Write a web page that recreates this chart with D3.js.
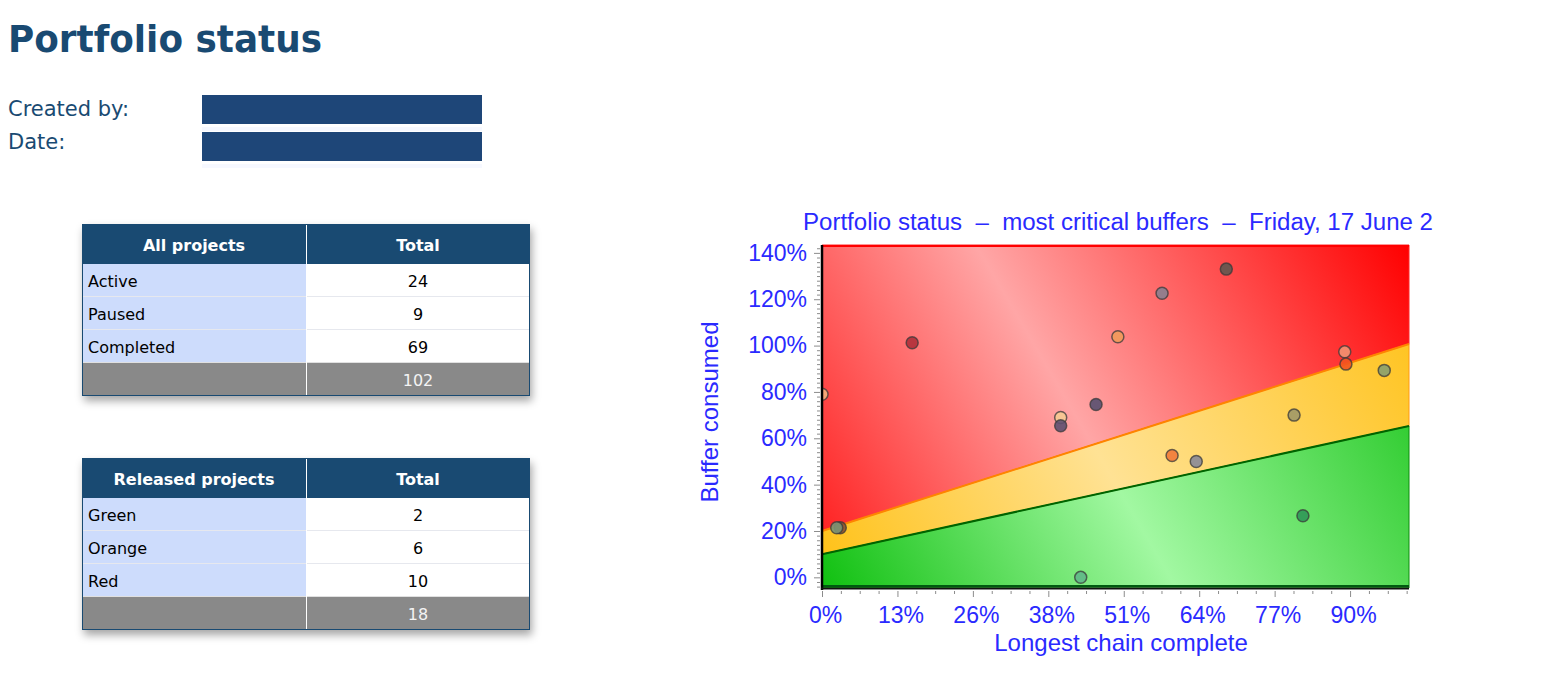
<!DOCTYPE html>
<html>
<head>
<meta charset="utf-8">
<script src="https://cdnjs.cloudflare.com/ajax/libs/d3/7.8.5/d3.min.js"></script>
<style>
  body { margin: 0; background: #fff; }
</style>
</head>
<body>
<script>
// ---- data ----
var pageTitle = "Portfolio status";
var infoLabels = ["Created by:", "Date:"];

var allHeads = ["All projects", "Total"];
var allRows = ["Active", "Paused", "Completed"];
var allValues = [24, 9, 69];
var allTotal = 102;

var relHeads = ["Released projects", "Total"];
var relRows = ["Green", "Orange", "Red"];
var relValues = [2, 6, 10];
var relTotal = 18;

var chartTitle = "Portfolio status  \u2013  most critical buffers  \u2013  Friday, 17 June 2";
var xTitle = "Longest chain complete";
var yTitle = "Buffer consumed";

// % of longest chain complete / % of buffer consumed, one per released project
var chainDone  = [0,   3.1,  2.5,  15.3,  40.5, 40.5, 46.5, 43.9, 50.2,  57.7,  68.6, 59.4, 63.5, 80.1, 81.6, 88.7, 88.9, 95.4];
var bufferUsed = [79,  21.4, 21.4, 101.2, 69,   65.4, 74.6, 0,    103.8, 122.6, 133,  52.6, 50,   70,   26.6, 97.3, 92,   89.3];
var pointColors = ["#f5b07c", "#8a5032", "#7c9474", "#b0303a", "#f6ca92", "#5e5070", "#585070", "#60b888",
                   "#f29a5a", "#8a8090", "#605850", "#f27a3a", "#8a8a98", "#a09868", "#309858", "#f29272",
                   "#f25420", "#88a070"];

// zone limits: buffer % at 0% and 100% chain complete
var greenLimit = [10, 65.5];
var orangeLimit = [20, 101];

var xTickValues = [0, 12.8, 25.6, 38.4, 51.2, 64, 76.8, 89.6];
var xTickLabels = ["0%", "13%", "26%", "38%", "51%", "64%", "77%", "90%"];
var yTickValues = [0, 20, 40, 60, 80, 100, 120, 140];
var yTickLabels = ["0%", "20%", "40%", "60%", "80%", "100%", "120%", "140%"];

// ---- page ----
var svg = d3.select("body").append("svg")
  .attr("width", 1560).attr("height", 676)
  .style("font-family", "'DejaVu Sans', Verdana, sans-serif");

var defs = svg.append("defs");
var shadow = defs.append("filter").attr("id", "shadow")
  .attr("x", "-10%").attr("y", "-15%").attr("width", "125%").attr("height", "145%");
shadow.append("feDropShadow").attr("dx", 2).attr("dy", 5).attr("stdDeviation", 4)
  .attr("flood-color", "#000").attr("flood-opacity", 0.35);

var navy = "#194a72";

svg.append("text").attr("x", 8).attr("y", 52)
  .attr("font-size", 38).attr("font-weight", "bold").attr("fill", navy)
  .attr("textLength", 314).attr("lengthAdjust", "spacingAndGlyphs")
  .text(pageTitle);

svg.selectAll(".info").data(infoLabels).enter().append("text")
  .attr("x", 8).attr("y", function(d, i){ return 116 + i * 33; })
  .attr("font-size", 21).attr("fill", navy)
  .text(function(d){ return d; });

infoLabels.forEach(function(d, i){
  svg.append("rect").attr("x", 202).attr("y", 127 + i * 37).attr("width", 280).attr("height", 4).attr("fill", "#f6f8ff");
  svg.append("rect").attr("x", 202).attr("y", 95 + i * 37).attr("width", 280).attr("height", 29).attr("fill", "#1e4678");
});

function drawTable(top, heads, rows, values, total) {
  var left = 82, right = 530, mid = 306, headH = 39, rowH = 33;
  var g = svg.append("g");
  var bodyTop = top + headH;
  var footTop = bodyTop + rows.length * rowH;
  var bottom = footTop + 34;

  g.append("rect").attr("x", left).attr("y", top).attr("width", right - left).attr("height", bottom - top)
    .attr("fill", "#fff").attr("filter", "url(#shadow)");
  g.append("rect").attr("x", left).attr("y", top).attr("width", right - left).attr("height", headH).attr("fill", navy);

  rows.forEach(function(r, i){
    var ry = bodyTop + i * rowH;
    g.append("rect").attr("x", left).attr("y", ry).attr("width", mid - left).attr("height", rowH).attr("fill", "#cddcfc");
    g.append("line").attr("x1", left).attr("x2", right).attr("y1", ry + 0.5).attr("y2", ry + 0.5)
      .attr("stroke", i === 0 ? navy : "#e6e8ee");
    g.append("text").attr("x", 88).attr("y", ry + 24).attr("font-size", 16).attr("fill", "#000").text(r);
    g.append("text").attr("x", (mid + right) / 2).attr("y", ry + 24).attr("font-size", 16)
      .attr("text-anchor", "middle").attr("fill", "#000").text(values[i]);
  });

  g.append("rect").attr("x", left).attr("y", footTop).attr("width", right - left).attr("height", bottom - footTop).attr("fill", "#898989");
  g.append("line").attr("x1", left).attr("x2", right).attr("y1", footTop + 0.5).attr("y2", footTop + 0.5).attr("stroke", "#e0e0e0");
  g.append("line").attr("x1", mid + 0.5).attr("x2", mid + 0.5).attr("y1", top).attr("y2", bottom).attr("stroke", "#fff");
  g.append("text").attr("x", (mid + right) / 2).attr("y", footTop + 24).attr("font-size", 16)
    .attr("text-anchor", "middle").attr("fill", "#f4f4f4").text(total);

  heads.forEach(function(h, i){
    g.append("text").attr("x", i === 0 ? (left + mid) / 2 : (mid + right) / 2).attr("y", top + 27)
      .attr("font-size", 16).attr("font-weight", "bold").attr("text-anchor", "middle").attr("fill", "#fff").text(h);
  });

  g.append("rect").attr("x", left + 0.5).attr("y", top + 0.5).attr("width", right - left - 1).attr("height", bottom - top - 1)
    .attr("fill", "none").attr("stroke", navy);
}

drawTable(224, allHeads, allRows, allValues, allTotal);
drawTable(458, relHeads, relRows, relValues, relTotal);

// ---- chart ----
var x = d3.scaleLinear().domain([0, 99.6]).range([822, 1409]);
var y = d3.scaleLinear().domain([-4.6, 143.4]).range([588, 245]);
var greenAt = d3.scaleLinear().domain([0, 100]).range(greenLimit);
var orangeAt = d3.scaleLinear().domain([0, 100]).range(orangeLimit);
var edges = x.domain();
var yMin = y.domain()[0], yMax = y.domain()[1];

function grad(id, end, light) {
  var lg = defs.append("linearGradient").attr("id", id).attr("gradientUnits", "userSpaceOnUse")
    .attr("x1", x(edges[0])).attr("y1", y(yMin)).attr("x2", x(edges[1])).attr("y2", y(yMax));
  lg.append("stop").attr("offset", 0).attr("stop-color", end[0]);
  lg.append("stop").attr("offset", 0.45).attr("stop-color", light);
  lg.append("stop").attr("offset", 1).attr("stop-color", end[1]);
}
grad("gRed", ["#ff1616", "#ff0000"], "#ffa6a6");
grad("gYellow", ["#ffc012", "#ffc012"], "#ffe294");
grad("gGreen", ["#10c010", "#10c010"], "#a2f8a2");

defs.append("clipPath").attr("id", "plotClip").append("rect")
  .attr("x", x(edges[0])).attr("y", y(yMax)).attr("width", x(edges[1]) - x(edges[0])).attr("height", y(yMin) - y(yMax));

var area = d3.area().x(function(d){ return x(d); });
var zones = [
  { fill: "url(#gRed)", stroke: "#ff2a2a", lo: orangeAt, hi: function(){ return yMax; } },
  { fill: "url(#gYellow)", stroke: "#ff9a10", lo: greenAt, hi: orangeAt },
  { fill: "url(#gGreen)", stroke: "#0c8c0c", lo: function(){ return yMin; }, hi: greenAt }
];
zones.forEach(function(z){
  svg.append("path").attr("d", area.y0(function(d){ return y(z.lo(d)); }).y1(function(d){ return y(z.hi(d)); })(edges))
    .attr("fill", z.fill).attr("stroke", z.stroke).attr("stroke-width", 1);
});

var line = d3.line().x(function(d){ return x(d); });
svg.append("path").attr("d", line.y(function(d){ return y(orangeAt(d)); })(edges))
  .attr("fill", "none").attr("stroke", "#ff8400").attr("stroke-width", 2);
svg.append("path").attr("d", line.y(function(d){ return y(greenAt(d)); })(edges))
  .attr("fill", "none").attr("stroke", "#006400").attr("stroke-width", 2);
svg.append("line").attr("x1", x(edges[0])).attr("x2", x(edges[1])).attr("y1", y(yMax) + 1).attr("y2", y(yMax) + 1)
  .attr("stroke", "#ff0000").attr("stroke-width", 2);
svg.append("line").attr("x1", x(edges[0])).attr("x2", x(edges[1])).attr("y1", y(yMin) - 2).attr("y2", y(yMin) - 2)
  .attr("stroke", "#005a10").attr("stroke-width", 2);

svg.append("g").attr("clip-path", "url(#plotClip)")
  .selectAll("circle").data(chainDone).enter().append("circle")
  .attr("cx", function(d){ return x(d); })
  .attr("cy", function(d, i){ return y(bufferUsed[i]); })
  .attr("r", 6)
  .attr("fill", function(d, i){ return pointColors[i]; })
  .attr("fill-opacity", 0.9)
  .attr("stroke", "#3a3a3a").attr("stroke-opacity", 0.75).attr("stroke-width", 1.5);

// axes
var blue = "#2a2aff";
var yMinor = d3.range(-2, 72).map(function(k){ return k * 2; }).filter(function(v){ return v % 20 !== 0 && v < yMax; });
var xMinor = d3.range(0, 32).map(function(k){ return +(k * 3.2).toFixed(1); })
  .filter(function(v){ return xTickValues.indexOf(v) < 0 && v < edges[1]; });

svg.append("g").attr("transform", "translate(820,0)")
  .call(d3.axisLeft(y).tickValues(yMinor).tickSize(3).tickFormat(""))
  .call(function(g){ g.select(".domain").remove(); g.selectAll("line").attr("stroke", "#8c8c8c"); });
svg.append("g").attr("transform", "translate(820,0)")
  .call(d3.axisLeft(y).tickValues(yTickValues).tickSize(6).tickPadding(7)
    .tickFormat(function(d, i){ return yTickLabels[i]; }))
  .call(function(g){
    g.select(".domain").remove();
    g.selectAll("line").attr("stroke", "#8c8c8c");
    g.selectAll("text").attr("fill", blue).attr("font-size", 23).attr("font-family", "'Liberation Sans', Arial, sans-serif");
  });

svg.append("g").attr("transform", "translate(0,591)")
  .call(d3.axisBottom(x).tickValues(xMinor).tickSize(3).tickFormat(""))
  .call(function(g){ g.select(".domain").remove(); g.selectAll("line").attr("stroke", "#8c8c8c"); });
svg.append("g").attr("transform", "translate(0,591)")
  .call(d3.axisBottom(x).tickValues(xTickValues).tickSize(6).tickPadding(10)
    .tickFormat(function(d, i){ return xTickLabels[i]; }))
  .call(function(g){
    g.select(".domain").remove();
    g.selectAll("line").attr("stroke", "#8c8c8c");
    g.selectAll("text").attr("fill", blue).attr("font-size", 23).attr("dx", 3)
      .attr("font-family", "'Liberation Sans', Arial, sans-serif");
  });

svg.append("line").attr("x1", 822).attr("x2", 822).attr("y1", y(yMax)).attr("y2", 590)
  .attr("stroke", "#000").attr("stroke-width", 2.5);
svg.append("line").attr("x1", 821).attr("x2", x(edges[1])).attr("y1", 588.5).attr("y2", 588.5)
  .attr("stroke", "#111").attr("stroke-width", 2);

var chartFont = "'Liberation Sans', Arial, sans-serif";
svg.append("text").attr("x", 803).attr("y", 230)
  .attr("font-family", chartFont).attr("font-size", 23).attr("fill", blue)
  .style("white-space", "pre")
  .attr("textLength", 630).attr("lengthAdjust", "spacingAndGlyphs")
  .text(chartTitle);

svg.append("text").attr("x", 1121).attr("y", 651)
  .attr("font-family", chartFont).attr("font-size", 24).attr("fill", blue).attr("text-anchor", "middle")
  .text(xTitle);

svg.append("text").attr("transform", "translate(718,412) rotate(-90)")
  .attr("font-family", chartFont).attr("font-size", 24).attr("fill", blue).attr("text-anchor", "middle")
  .text(yTitle);
</script>
</body>
</html>
